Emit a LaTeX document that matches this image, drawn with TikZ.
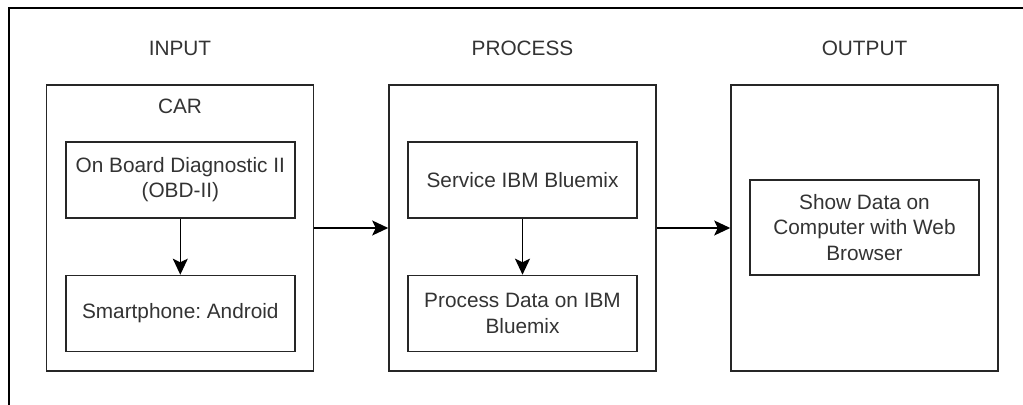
\documentclass[tikz,border=0pt]{standalone}
\usepackage{fontspec}
\setmainfont{Liberation Sans}
\usetikzlibrary{arrows.meta}
\frenchspacing

\begin{document}
\begin{tikzpicture}[x=0.5pt,y=-0.5pt]
    \tikzstyle{every node}=[font=\fontsize{10.4}{12.6}\selectfont,text=black!80]
    \tikzstyle{stage}=[draw=black!85,line width=0.8pt,inner sep=0pt,minimum width=133.5pt,minimum height=143pt]
    \tikzstyle{task}=[draw=black!85,line width=0.8pt,inner sep=0pt,align=center,minimum width=114.5pt,minimum height=38pt]
    \tikzstyle{flow}=[draw=black,line width=0.8pt,-{Stealth[length=8pt,width=7.5pt,inset=1.8pt]}]

    \useasboundingbox (0,0) rectangle (1023,405);
    \draw[line width=1pt] (9,405) -- (9,8.5) -- (1023,8.5);

    \node (inputlbl) at (180,48) {INPUT};
    \node (processlbl) at (522.5,48) {PROCESS};
    \node (outputlbl) at (864.5,48) {OUTPUT};

    \node[stage] (car) at (180,228) {};
    \node (carlbl) at (180,106) {CAR};
    \node[task] (obd) at (180.3,180) {On Board Diagnostic II\\(OBD-II)};
    \node[task] (phone) at (180.3,313.5) {Smartphone: Android};

    \node[stage] (process) at (522.5,228) {};
    \node[task] (service) at (522.5,180) {Service IBM Bluemix};
    \node[task] (procdata) at (522.5,313.5) {Process Data on IBM\\Bluemix};

    \node[stage] (output) at (864.5,228) {};
    \node[task,minimum height=47.5pt] (show) at (864.5,227.5)
    {Show Data on\\Computer with Web\\Browser};

    \draw[flow] (obd) -- (phone);
    \draw[flow] (service) -- (procdata);
    \draw[flow] (car) -- (process);
    \draw[flow] (process) -- (output);

\end{tikzpicture}
\end{document}
